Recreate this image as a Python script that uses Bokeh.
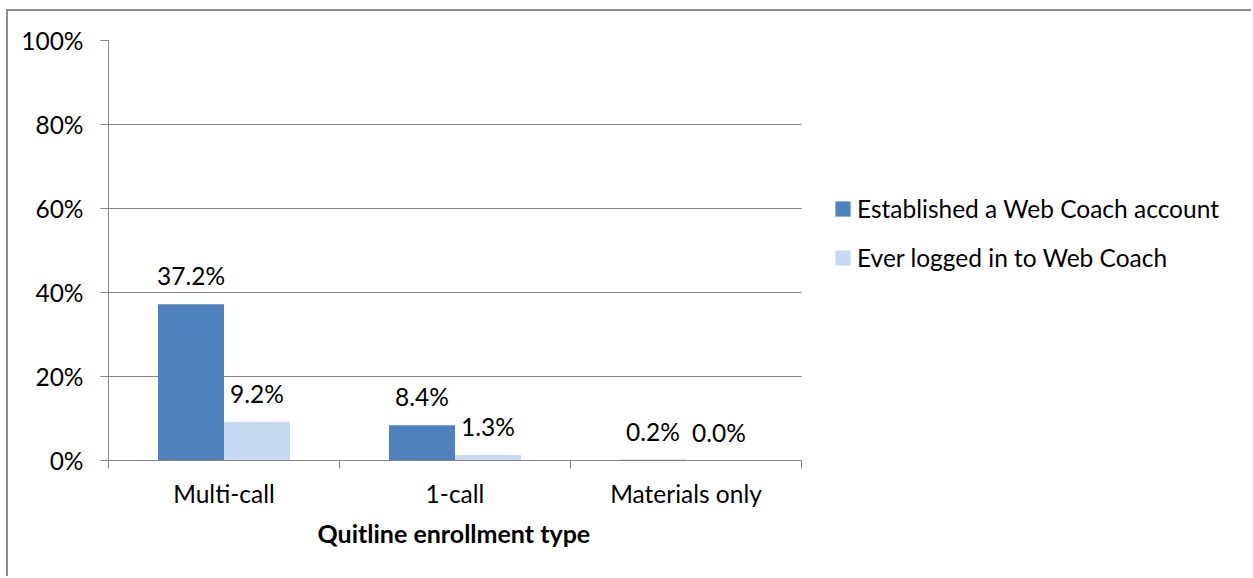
from bokeh.plotting import figure
from bokeh.models import (ColumnDataSource, Range1d, FixedTicker, PrintfTickFormatter,
                          LabelSet, Legend, LegendItem, Title)
from bokeh.core.properties import value
from bokeh.transform import dodge
from bokeh.embed import file_html
from bokeh.resources import INLINE

# ---- data ----
categories = ["Multi-call", "1-call", "Materials only"]
established = [37.2, 8.4, 0.2]
logged_in = [9.2, 1.3, 0.0]
series_names = ["Established a Web Coach account", "Ever logged in to Web Coach"]
y_ticks = [0, 20, 40, 60, 80, 100]
x_title = "Quitline enrollment type"

# ---- style / layout ----
FONT = "Lato"
FS = "24.5px"
BLUE = "#4F81BD"
LIGHT = "#C6D9F1"
GRID = "#868686"
BORDER = "#8c8c8c"
BW = 0.2857
CANVAS_W, CANVAS_H = 1245, 567
LEFT, RIGHT_PLOT, CANVAS_RIGHT = 100, 793, 1245   # canvas px: axis area 100..793
N = len(categories)
x_end = N * (CANVAS_RIGHT - LEFT) / (RIGHT_PLOT - LEFT)  # extend frame for legend room

pos = [i + 0.5 for i in range(N)]
src = ColumnDataSource(dict(
    x=pos, est=established, log=logged_in,
    est_lbl=[f"{v:.1f}%" for v in established],
    log_lbl=[f"{v:.1f}%" for v in logged_in],
))

p = figure(width=CANVAS_W, height=CANVAS_H, output_backend="svg", toolbar_location=None,
           x_range=Range1d(0, x_end), y_range=Range1d(0, 100),
           min_border_left=LEFT, min_border_right=0, min_border_top=29,
           min_border_bottom=118)
p.margin = (9, 0, 0, 6)
p.styles = {"border-top": f"2px solid {BORDER}", "border-left": f"2px solid {BORDER}"}
p.outline_line_color = None
p.background_fill_color = "white"
p.border_fill_color = "white"

r1 = p.vbar(x=dodge("x", -BW / 2), top="est", width=BW, source=src,
            fill_color=BLUE, line_color=None)
r2 = p.vbar(x=dodge("x", BW / 2), top="log", width=BW, source=src,
            fill_color=LIGHT, line_color=None)

for col, y_col, off in (("est_lbl", "est", -BW / 2), ("log_lbl", "log", BW / 2)):
    p.add_layout(LabelSet(x=dodge("x", off), y=y_col, text=col, source=src,
                          y_offset=19, text_align="center", text_baseline="alphabetic",
                          text_font=value(FONT), text_font_size=value(FS),
                          text_color="black"))

# grid (limited to the category span)
p.xgrid.visible = False
yg = p.ygrid[0]
yg.cross_bounds = (0, N)
yg.ticker = FixedTicker(ticks=y_ticks)
yg.grid_line_color = GRID
yg.grid_line_width = 1

# y axis
ya = p.yaxis[0]
ya.ticker = FixedTicker(ticks=y_ticks, minor_ticks=[])
ya.formatter = PrintfTickFormatter(format="%d%%")
ya.axis_line_color = GRID
ya.major_tick_line_color = GRID
ya.major_tick_out = 8
ya.major_tick_in = 0
ya.minor_tick_line_color = None
ya.major_label_standoff = 17
ya.major_label_text_font = FONT
ya.major_label_text_font_size = FS
ya.major_label_text_color = "black"

# x axis
xa = p.xaxis[0]
xa.bounds = (0, N)
xa.ticker = FixedTicker(ticks=pos, minor_ticks=[float(i) for i in range(N + 1)])
xa.major_label_overrides = {pos[i]: categories[i] for i in range(N)}
xa.axis_line_color = GRID
xa.major_tick_line_color = None
xa.major_tick_out = 0
xa.major_tick_in = 0
xa.minor_tick_line_color = GRID
xa.minor_tick_out = 8
xa.minor_tick_in = 0
xa.major_label_standoff = 10
xa.major_label_text_font = FONT
xa.major_label_text_font_size = FS
xa.major_label_text_color = "black"

# x title, placed under the category span
p.add_layout(Title(text=x_title, align="left", offset=209, standoff=10,
                   text_font=FONT, text_font_size="25px", text_font_style="bold",
                   text_color="black"), "below")

legend = Legend(items=[LegendItem(label=series_names[0], renderers=[r1]),
                       LegendItem(label=series_names[1], renderers=[r2])],
                location=(725, 188), orientation="vertical",
                background_fill_alpha=0, border_line_color=None,
                padding=0, margin=0, glyph_width=19, glyph_height=19,
                label_standoff=5, label_height=19, spacing=20,
                label_text_font=FONT, label_text_font_size=FS,
                label_text_color="black")
p.add_layout(legend)

open("out.html", "w").write(file_html(p, INLINE))
